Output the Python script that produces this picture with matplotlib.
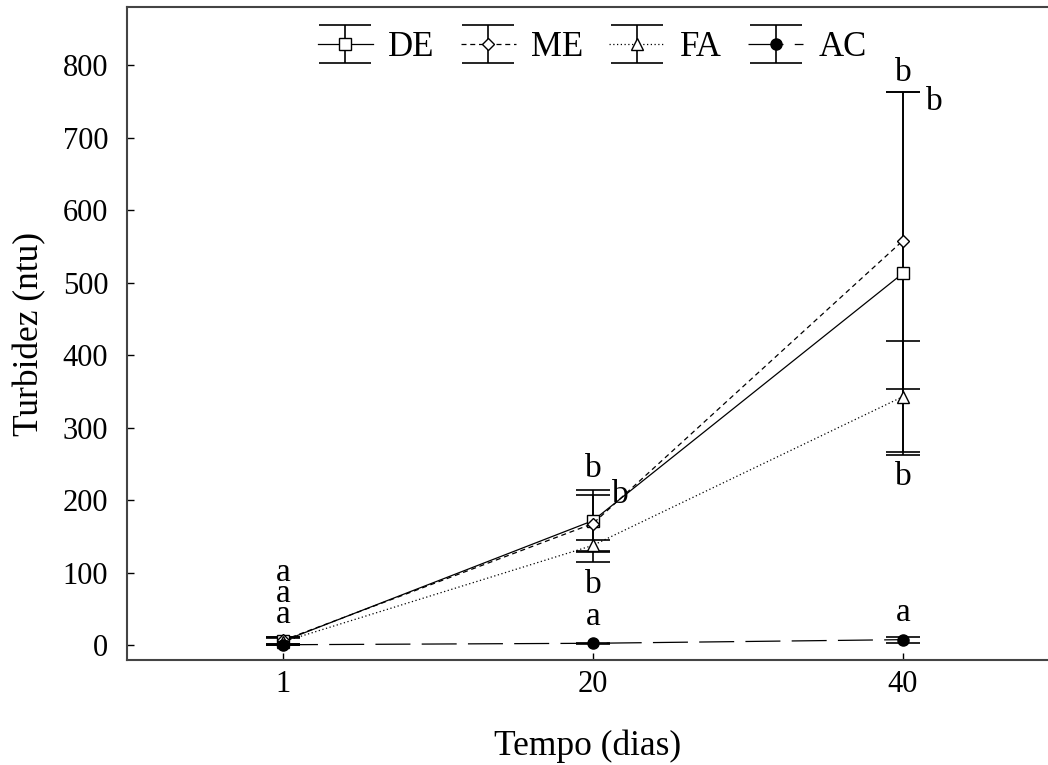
import matplotlib.pyplot as plt
from matplotlib.container import ErrorbarContainer
from matplotlib.legend_handler import HandlerErrorbar
from matplotlib.lines import Line2D

plt.rcParams['font.family'] = ['Liberation Serif', 'DejaVu Serif']

dias = ['1', '20', '40']
series = ['DE', 'ME', 'FA', 'AC']
medias = {
    'DE': [6, 172, 513],
    'ME': [7, 168, 558],
    'FA': [5, 138, 343],
    'AC': [1, 3, 8],
}
# erro inferior / superior
erro_inf = {
    'DE': [5, 42, 250],
    'ME': [5, 39, 205],
    'FA': [5, 23, 77],
    'AC': [1, 1, 4],
}
erro_sup = {
    'DE': [5, 42, 250],
    'ME': [4, 39, 205],
    'FA': [5, 7, 77],
    'AC': [1, 1, 4],
}
# letras (posicao x, posicao y, texto)
letras_x = [0, 1, 1.087, 1, 1, 2, 2.103, 2, 2]
letras_y = [71, 244, 208, 83, 39, 790, 749, 233, 45]
letras = ['a\na\na', 'b', 'b', 'b', 'a', 'b', 'b', 'b', 'a']

estilos = {
    'DE': dict(marker='s', mfc='white', ls='-'),
    'ME': dict(marker='D', mfc='white', ls=(0, (4, 3)), ms=6.5),
    'FA': dict(marker='^', mfc='white', ls=(0, (1, 2))),
    'AC': dict(marker='o', mfc='black', ls=(0, (28, 9))),
}

fig = plt.figure(figsize=(10.48, 7.65), dpi=100)
ax = fig.add_axes([0.1212, 0.1373, 0.8788, 0.8535])

x = list(range(len(dias)))
for s in series:
    st = dict(ms=8, mec='black', color='black', lw=0.9)
    st.update(estilos[s])
    ax.errorbar(x, medias[s], yerr=[erro_inf[s], erro_sup[s]], capsize=12.5,
                ecolor='black', elinewidth=1.2, capthick=1.2, label=s, **st)

for lx, ly, t in zip(letras_x, letras_y, letras):
    ax.text(lx, ly, t, ha='center', va='center', fontsize=24, linespacing=0.6)

ax.set_xlim(-0.503, 2.468)
ax.set_ylim(-20, 880)
ax.set_xticks(x)
ax.set_xticklabels(dias)
ax.set_yticks(range(0, 801, 100))
ax.tick_params(direction='in', labelsize=22, length=5, width=1)
ax.tick_params(axis='y', pad=13.5)
ax.tick_params(axis='x', pad=7)
ax.spines['right'].set_visible(False)
for sp in ['left', 'bottom', 'top']:
    ax.spines[sp].set_linewidth(1.5)
    ax.spines[sp].set_color('#444444')

ax.set_xlabel('Tempo (dias)', fontsize=25.5, labelpad=22)
ax.set_ylabel('Turbidez (ntu)', fontsize=25.5, labelpad=12)


def caps_largos(leg_artist, orig):
    leg_artist.update_from(orig)
    # tampas do erro na legenda com a largura do simbolo
    if isinstance(leg_artist, Line2D) and isinstance(orig, Line2D) and orig.get_marker() == '_':
        leg_artist.set_markersize(38)


ax.legend(loc='upper center', bbox_to_anchor=(0.505, 1.0), ncol=4, frameon=False,
          fontsize=25, handlelength=1.6, columnspacing=0.75, handletextpad=0.43,
          borderaxespad=0.3,
          handler_map={ErrorbarContainer: HandlerErrorbar(yerr_size=0.55, update_func=caps_largos)})

fig.savefig('out.png', dpi=100)
